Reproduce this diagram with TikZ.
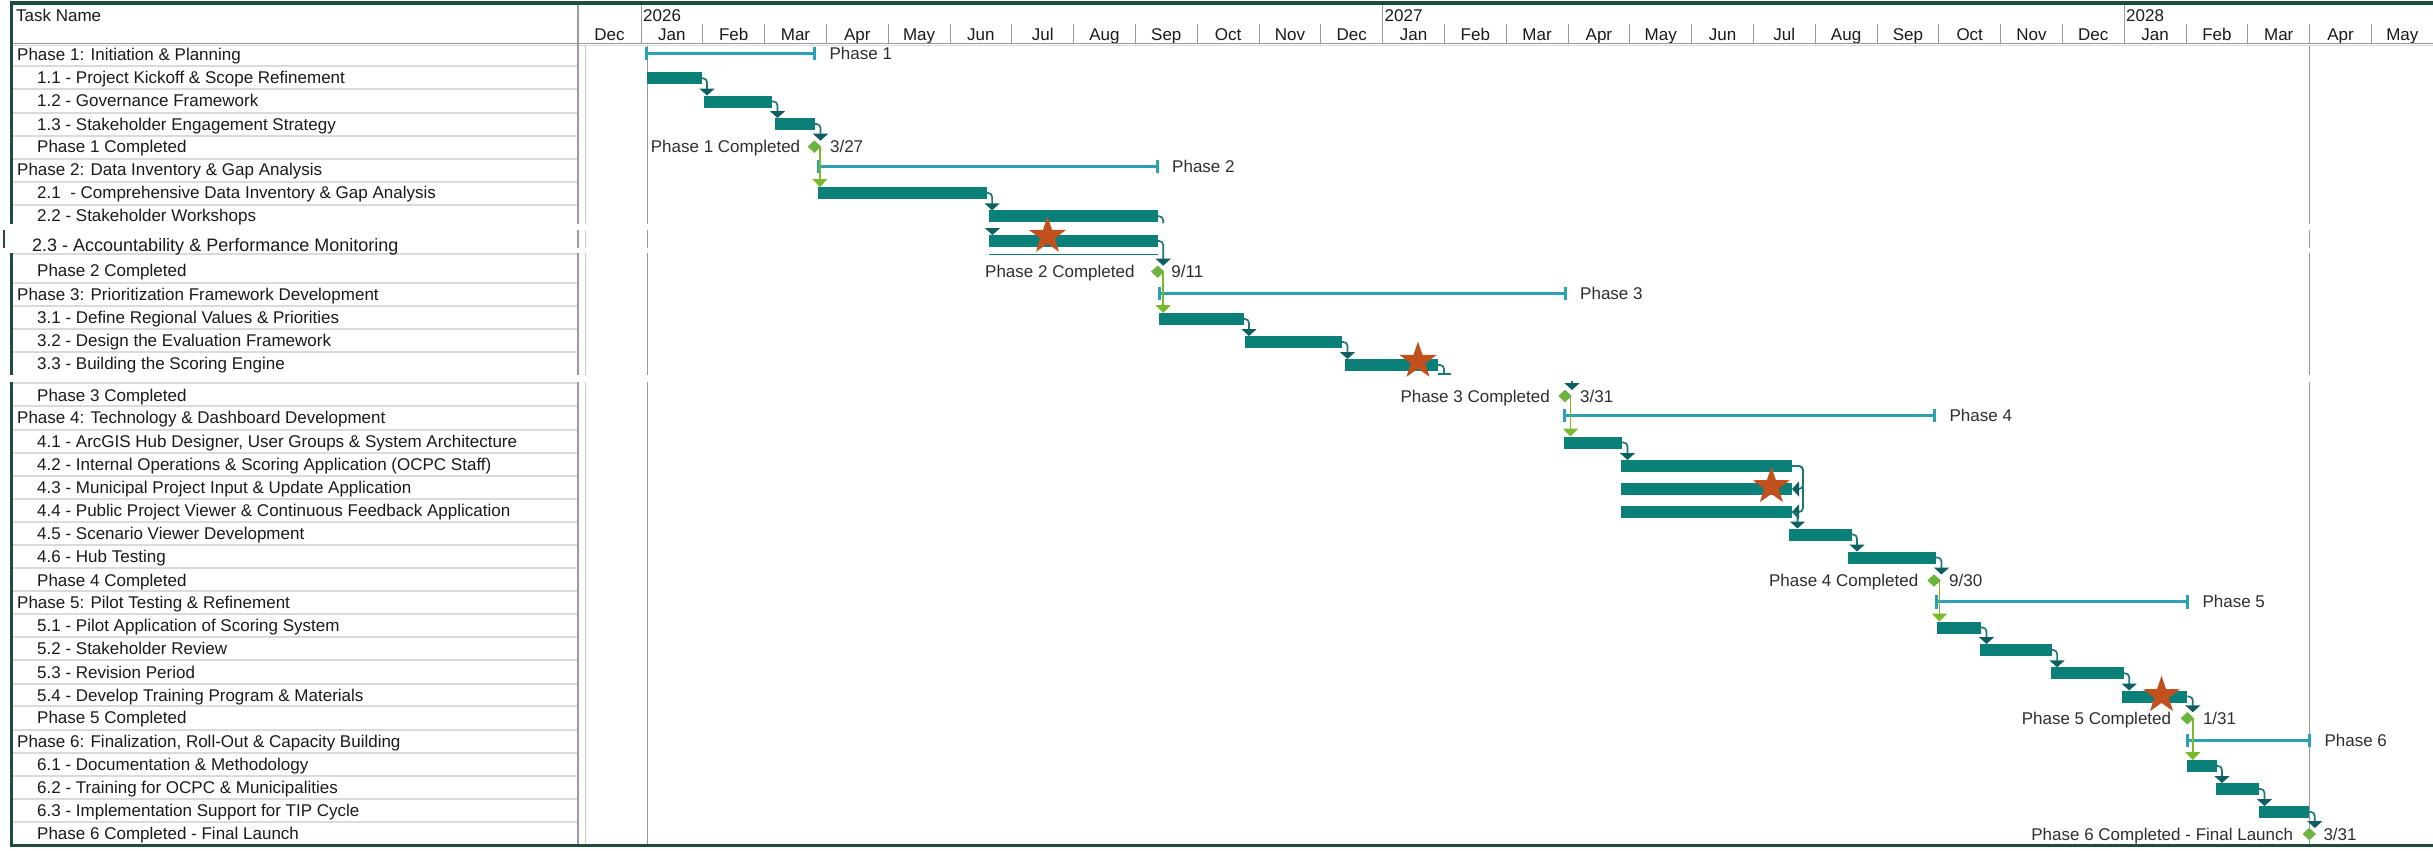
\documentclass[tikz,border=0pt]{standalone}
\usepackage{fontspec}
\setmainfont{Liberation Sans}
\usetikzlibrary{arrows.meta,shapes.geometric,calc}
\definecolor{barc}{HTML}{0A8078}
\definecolor{linkc}{HTML}{1E7774}
\definecolor{linkd}{HTML}{0E6060}
\definecolor{sumc}{HTML}{2DA1B4}
\definecolor{msc}{HTML}{6DB33F}
\definecolor{glc}{HTML}{79B92A}
\definecolor{starc}{HTML}{C2501C}
\definecolor{borderc}{HTML}{1E4D3B}
\definecolor{gridc}{HTML}{9A9A9A}
\definecolor{sepc}{HTML}{DADADA}
\definecolor{greenl}{HTML}{B6D9A6}
\definecolor{txtc}{HTML}{1A1A1A}
\tikzset{
 taskbar/.style={rectangle, fill=barc, inner sep=0pt, outer sep=0pt, minimum height=12pt, anchor=west},
 ms/.style={diamond, fill=msc, inner sep=0pt, outer sep=0pt, minimum width=13pt, minimum height=12pt},
 link/.style={draw=linkc, line width=1.7pt, rounded corners=4pt, -{Triangle[width=15pt,length=7pt,color=linkd]}},
 linkline/.style={draw=linkc, line width=1.7pt, rounded corners=4pt},
 glink/.style={draw=glc, line width=1.7pt, -{Triangle[width=15pt,length=8pt]}},
 summ/.style={draw=sumc, line width=3pt},
 txt/.style={anchor=base west, inner sep=0pt, text=txtc},
 ctxt/.style={inner sep=0pt, text=black!82},
 hdr/.style={inner sep=0pt, text=txtc},
 gridl/.style={draw=gridc, line width=1.2pt},
 tickl/.style={draw=gridc, line width=1pt},
 sepl/.style={draw=sepc, line width=2pt},
 border/.style={draw=borderc, line width=3.5pt},
 starm/.style={star, star points=5, star point ratio=2.55, fill=starc, inner sep=0pt, minimum size=39pt},
}
\newcommand\mkbar[4]{\node[taskbar, minimum width={(#3-#2)*1pt}] (#1) at (#2,#4) {};}
\newcommand\lk[2]{\draw[link] let \p1=(#1.east), \p2=(#2.north) in (\p1) -| (\x1+5.5pt,\y2);}
\newcommand\gk[2]{\draw[glink] let \p1=(#1.center), \p2=(#2.north) in (\x1+5.5pt,\y1) -- (\x1+5.5pt,\y2);}
\newcommand\mksum[5]{%
 \draw[summ] (#2,#4) -- (#3,#4);
 \draw[summ] (#2,#4-6.5) -- (#2,#4+7);
 \draw[summ] (#3,#4-6.5) -- (#3,#4+7);
 \node[ctxt, anchor=base west] (#1) at (#3+15,#4+6) {#5};}
\newcommand\mkms[5]{%
 \node[ms] (#1) at (#2,#3) {};
 \node[ctxt, anchor=base east] (#1lab) at (#2-#5,#3+6) {#4};}
\begin{document}
\begin{tikzpicture}[x=1pt,y=-1pt, font=\fontsize{17}{20}\selectfont]
\useasboundingbox (0,0) rectangle (2433,851);
\fill[white] (0,0) rectangle (2433,851);

% ---------- header ----------
\node[hdr, anchor=base west] (taskname) at (16,22) {Task Name};
\node[hdr, anchor=base] (mondec) at (609.5,41) {Dec};
\foreach \m [count=\i from 0] in {Jan,Feb,Mar,Apr,May,Jun,Jul,Aug,Sep,Oct,Nov,Dec,Jan,Feb,Mar,Apr,May,Jun,Jul,Aug,Sep,Oct,Nov,Dec,Jan,Feb,Mar,Apr,May}
  \node[hdr, anchor=base] (mon\i) at ({641+61.8*(\i+0.5)},41) {\m};
\foreach \k in {1,...,28}
  \draw[tickl] ({641+61.8*\k},24) -- ({641+61.8*\k},43.5);
\foreach \k in {0,12,24}
  \draw[tickl] ({641+61.8*\k},4.5) -- ({641+61.8*\k},43.5);
\node[hdr, anchor=base west] (y2026) at (643,22) {2026};
\node[hdr, anchor=base west] (y2027) at (1384.5,22) {2027};
\node[hdr, anchor=base west] (y2028) at (2126,22) {2028};
\draw[draw=gridc, line width=1.3pt] (13,43.5) -- (2433,43.5);
\draw[draw=sepc, line width=1.2pt] (13,45.8) -- (2433,45.8);

% ---------- row separators ----------
\foreach \y in {66,89,112.5,135.5,158.5,181.5,204.5,254,282.5,305.5,328.5,351.5,383,406,429.5,452.5,475.5,498.5,521.5,544.5,567.5,591,614,637,660,683.5,706,729.5,752.5,776,799,822}
  \draw[sepl] (13,\y) -- (577,\y);

% ---------- vertical lines ----------
\draw[gridl] (578,4.5) -- (578,844);
\draw[draw=greenl, line width=1.5pt] (585.5,45) -- (585.5,844);
\draw[gridl] (647.5,46) -- (647.5,844);
\draw[gridl] (2309.5,46) -- (2309.5,844);

% ---------- borders ----------
\draw[border] (9.5,3) -- (2433,3);
\draw[border] (11.5,1.5) -- (11.5,847);
\draw[border] (9.5,845.5) -- (2433,845.5);

% ---------- splice bands ----------
\fill[white] (0,223.5) rectangle (2433,230);
\fill[white] (0,248.3) rectangle (2433,252.5);
\fill[white] (0,223.5) rectangle (14,252.5);
\fill[white] (0,375) rectangle (2433,381.5);
\draw[draw=borderc, line width=2pt] (4,230) -- (4,248.3);

% ---------- task names ----------
\node[txt] (t1)  at (17,60.3)  {Phase 1: Initiation \& Planning};
\node[txt] (t11) at (37,83.5)  {1.1 - Project Kickoff \& Scope Refinement};
\node[txt] (t12) at (37,106.3) {1.2 - Governance Framework};
\node[txt] (t13) at (37,130)   {1.3 - Stakeholder Engagement Strategy};
\node[txt] (t1c) at (37,152.3) {Phase 1 Completed};
\node[txt] (t2)  at (17,175.3) {Phase 2: Data Inventory \& Gap Analysis};
\node[txt] (t21) at (37,198.7) {2.1 ~- Comprehensive Data Inventory \& Gap Analysis};
\node[txt] (t22) at (37,221)   {2.2 - Stakeholder Workshops};
\node[txt, font=\fontsize{18}{21}\selectfont] (t23) at (32,251) {2.3 - Accountability \& Performance Monitoring};
\node[txt] (t2c) at (37,276.5) {Phase 2 Completed};
\node[txt] (t3)  at (17,300.5) {Phase 3: Prioritization Framework Development};
\node[txt] (t31) at (37,323.5) {3.1 - Define Regional Values \& Priorities};
\node[txt] (t32) at (37,346.5) {3.2 - Design the Evaluation Framework};
\node[txt] (t33) at (37,369)   {3.3 - Building the Scoring Engine};
\node[txt] (t3c) at (37,401)   {Phase 3 Completed};
\node[txt] (t4)  at (17,423.5) {Phase 4: Technology \& Dashboard Development};
\node[txt] (t41) at (37,447.5) {4.1 - ArcGIS Hub Designer, User Groups \& System Architecture};
\node[txt] (t42) at (37,470.3) {4.2 - Internal Operations \& Scoring Application (OCPC Staff)};
\node[txt] (t43) at (37,493)   {4.3 - Municipal Project Input \& Update Application};
\node[txt] (t44) at (37,516.5) {4.4 - Public Project Viewer \& Continuous Feedback Application};
\node[txt] (t45) at (37,539.3) {4.5 - Scenario Viewer Development};
\node[txt] (t46) at (37,562)   {4.6 - Hub Testing};
\node[txt] (t4c) at (37,586.5) {Phase 4 Completed};
\node[txt] (t5)  at (17,608.5) {Phase 5: Pilot Testing \& Refinement};
\node[txt] (t51) at (37,631.5) {5.1 - Pilot Application of Scoring System};
\node[txt] (t52) at (37,654.3) {5.2 - Stakeholder Review};
\node[txt] (t53) at (37,678)   {5.3 - Revision Period};
\node[txt] (t54) at (37,701)   {5.4 - Develop Training Program \& Materials};
\node[txt] (t5c) at (37,723.5) {Phase 5 Completed};
\node[txt] (t6)  at (17,747.5) {Phase 6: Finalization, Roll-Out \& Capacity Building};
\node[txt] (t61) at (37,770.3) {6.1 - Documentation \& Methodology};
\node[txt] (t62) at (37,793.3) {6.2 - Training for OCPC \& Municipalities};
\node[txt] (t63) at (37,816.7) {6.3 - Implementation Support for TIP Cycle};
\node[txt] (t6c) at (37,839.3) {Phase 6 Completed - Final Launch};

% ---------- summary bars ----------
\mksum{p1}{646.8}{814.4}{53.3}{Phase 1}
\mksum{p2}{818}{1157}{166}{Phase 2}
\mksum{p3}{1159}{1565}{293.3}{Phase 3}
\mksum{p4}{1564}{1934.4}{415}{Phase 4}
\mksum{p5}{1936.7}{2187.3}{601.7}{Phase 5}
\mksum{p6}{2187.3}{2309.3}{740}{Phase 6}

% ---------- task bars ----------
\mkbar{b11}{646.8}{701.5}{78.3}
\mkbar{b12}{704}{772}{101.5}
\mkbar{b13}{775}{815}{124}
\mkbar{b21}{818}{986.6}{193}
\mkbar{b22}{988.5}{1157.7}{216.3}
\mkbar{b23}{988.5}{1157.7}{241}
\mkbar{b31}{1159}{1243.5}{319}
\mkbar{b32}{1245.4}{1342}{342}
\mkbar{b33}{1345}{1437.5}{365}
\mkbar{b41}{1564}{1622}{442.5}
\mkbar{b42}{1621}{1792}{466}
\mkbar{b43}{1621}{1792}{489}
\mkbar{b44}{1621}{1792}{512}
\mkbar{b45}{1789}{1851.5}{534.5}
\mkbar{b46}{1848}{1936}{557.5}
\mkbar{b51}{1936.7}{1981}{627.5}
\mkbar{b52}{1979.6}{2051.6}{650}
\mkbar{b53}{2050.7}{2123.7}{673.3}
\mkbar{b54}{2122}{2187.3}{696.5}
\mkbar{b61}{2187}{2216.5}{766}
\mkbar{b62}{2216}{2259}{789}
\mkbar{b63}{2258.5}{2309.3}{812}
\draw[draw=barc, line width=1.5pt] ($(b23.south west)+(0,7.3)$) -- ($(b23.south east)+(0,7.3)$);

% ---------- milestones ----------
\mkms{m1}{814.4}{146.7}{Phase 1 Completed}{14}
\mkms{m2}{1157.7}{271.7}{Phase 2 Completed}{23}
\mkms{m3}{1565}{396}{Phase 3 Completed}{15}
\mkms{m4}{1934}{580.5}{Phase 4 Completed}{15.5}
\mkms{m5}{2187.3}{718.3}{Phase 5 Completed}{16}
\mkms{m6}{2309.3}{834}{Phase 6 Completed - Final Launch}{16}
\node[ctxt, anchor=base west] (d1) at ($(m1)+(15.5,6)$) {3/27};
\node[ctxt, anchor=base west] (d2) at ($(m2)+(13.5,6)$) {9/11};
\node[ctxt, anchor=base west] (d3) at ($(m3)+(15,6)$) {3/31};
\node[ctxt, anchor=base west] (d4) at ($(m4)+(15,6)$) {9/30};
\node[ctxt, anchor=base west] (d5) at ($(m5)+(15.5,6)$) {1/31};
\node[ctxt, anchor=base west] (d6) at ($(m6)+(14,6)$) {3/31};

% ---------- links ----------
\lk{b11}{b12}
\lk{b12}{b13}
\lk{b13}{m1}
\lk{b21}{b22}
\coordinate (c23) at (992.5,227.5);
\draw[link] (c23) -- (c23 |- b23.north);
\draw[linkline] let \p1=(b22.east) in (\p1) -| (\x1+5.5pt,\y1-7pt);
\lk{b23}{m2}
\lk{b31}{b32}
\lk{b32}{b33}
\draw[linkline] let \p1=(b33.east) in (\p1) -| (\x1+6.5pt,\y1-9pt);
\draw[draw=linkc, line width=1.5pt] let \p1=(b33.east) in (\x1,\y1-9pt) -- (\x1+13pt,\y1-9pt);
\coordinate (c3m) at (1572,381);
\draw[link] (c3m) -- (c3m |- m3.north);
\lk{b41}{b42}
\draw[link] let \p1=(b42.east), \p2=(b43.east) in (\p1) -- (\x1+11pt,\y1) |- (\p2);
\draw[link] let \p1=(b42.east), \p2=(b44.east) in (\p1) -- (\x1+11pt,\y1) |- (\p2);
\lk{b44}{b45}
\lk{b45}{b46}
\lk{b46}{m4}
\lk{b51}{b52}
\lk{b52}{b53}
\lk{b53}{b54}
\lk{b54}{m5}
\lk{b61}{b62}
\lk{b62}{b63}
\lk{b63}{m6}
\gk{m1}{b21}
\gk{m2}{b31}
\gk{m3}{b41}
\gk{m4}{b51}
\gk{m5}{b61}
% diamonds on top of their connectors
\foreach \mm in {m1,m2,m3,m4,m5,m6} \node[ms] at (\mm) {};

% ---------- stars ----------
\node[starm] (s1) at (1047.5,236) {};
\node[starm] (s2) at (1418,361) {};
\node[starm] (s3) at (1771.4,486.3) {};
\node[starm] (s4) at (2161.5,695.3) {};
\end{tikzpicture}
\end{document}
